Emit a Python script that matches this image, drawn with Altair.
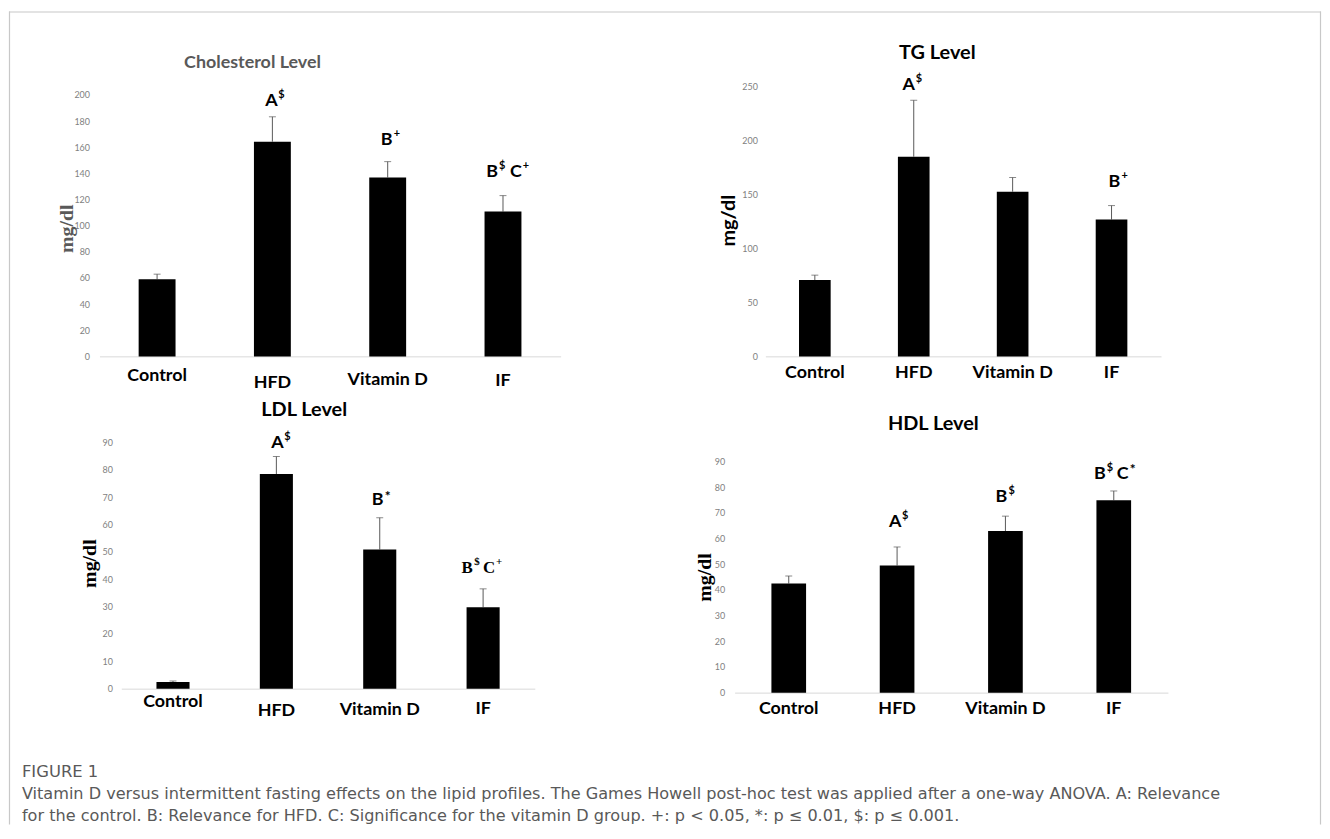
import altair as alt
import pandas as pd

# ---------------- data ----------------
groups = ["Control", "HFD", "Vitamin D", "IF"]

chol_mean = [59.1, 164.3, 136.9, 110.8]
chol_err = [3.8, 19.0, 12.1, 12.2]
tg_mean = [70.6, 184.9, 152.5, 126.7]
tg_err = [4.6, 52.2, 13.1, 12.9]
ldl_mean = [2.4, 78.5, 50.9, 29.8]
ldl_err = [0.4, 6.4, 11.6, 6.7]
hdl_mean = [42.5, 49.5, 62.9, 74.9]
hdl_err = [2.9, 7.2, 5.8, 3.6]

chol_ticks = [0, 20, 40, 60, 80, 100, 120, 140, 160, 180, 200]
tg_ticks = [0, 50, 100, 150, 200, 250]
ldl_ticks = [0, 10, 20, 30, 40, 50, 60, 70, 80, 90]
hdl_ticks = [0, 10, 20, 30, 40, 50, 60, 70, 80, 90]

chol_ann_groups = ["HFD", "Vitamin D", "IF"]
chol_ann_y = [195.4, 165.8, 140.7]
chol_ann_text = ["A$", "B+", "B$ C+"]
tg_ann_groups = ["HFD", "IF"]
tg_ann_y = [251.0, 161.0]
tg_ann_text = ["A$", "B+"]
ldl_ann_groups = ["HFD", "Vitamin D", "IF"]
ldl_ann_y = [89.9, 68.8, 44.1]
ldl_ann_text = ["A$", "B*", "B$ C+"]
hdl_ann_groups = ["HFD", "Vitamin D", "IF"]
hdl_ann_y = [66.4, 76.3, 85.2]
hdl_ann_text = ["A$", "B$", "B$ C*"]

panel_titles = ["Cholesterol Level", "TG Level", "LDL Level", "HDL Level"]
y_title = "mg/dl"
caption_head = "FIGURE 1"
caption_lines = [
    "Vitamin D versus intermittent fasting effects on the lipid profiles. The Games Howell post-hoc test was applied after a one-way ANOVA. A: Relevance",
    "for the control. B: Relevance for HFD. C: Significance for the vitamin D group. +: p < 0.05, *: p \u2264 0.01, $: p \u2264 0.001.",
]

# ---------------- layout / style ----------------
W, H = 1320, 818
SANS = "Lato"
SERIF = "Liberation Serif"
CAPF = "DejaVu Sans"
GRAY = "#595959"


def pad_cond(base, special):
    """x-axis label padding with per-label adjustments (style only)."""
    if not special:
        return base
    conds = [{"test": "datum.value === '%s'" % g, "value": v} for g, v in special.items()]
    return {"condition": conds, "value": base}


layout = {
    "chol": dict(xr=[91, 555], yr=[347, 84], ylp=10, xlp=pad_cond(15, {"Control": 10.5, "HFD": 17.5, "Vitamin D": 14.5}),
                 tx=-33, ty=218, tfont=SERIF, tcolor=GRAY, head=(245, 52), head_color=GRAY, head_size=18,
                 ann_dx=[[-1], [-1], [-11, 13]], ann_font=[SANS, SANS, SANS]),
    "tg": dict(xr=[761, 1159], yr=[347, 75.3], ylp=8, xlp=7, tx=-37, ty=210,
               tfont=SANS, tcolor="black", head=(934, 42), head_color="black", head_size=20,
               ann_dx=[[-5], [3]], ann_font=[SANS, SANS]),
    "ldl": dict(xr=[113, 529], yr=[681.3, 433.7], ylp=9, xlp=pad_cond(12, {"Control": 4, "HFD": 13.5, "IF": 11}),
                tx=-32, ty=555, tfont=SERIF, tcolor="black", head=(297, 401), head_color="black", head_size=20,
                ann_dx=[[1], [-2], [-16, 6]], ann_font=[SANS, SANS, SERIF]),
    "hdl": dict(xr=[730, 1166], yr=[685.3, 452.7], ylp=10, xlp=7, tx=-30, ty=569,
                tfont=SERIF, tcolor="black", head=(930, 415), head_color="black", head_size=20,
                ann_dx=[[-2], [-4], [-14, 9]], ann_font=[SANS, SANS, SANS]),
}


def panel(means, errs, ticks, ann_groups, ann_y, ann_text, L):
    df = pd.DataFrame({
        "group": groups,
        "mean": means,
        "upper": [m + e for m, e in zip(means, errs)],
    })
    x = alt.X(
        "group:N", sort=groups, title=None,
        scale=alt.Scale(domain=groups, range=L["xr"], paddingInner=0.68, paddingOuter=0.34),
        axis=alt.Axis(orient="bottom", offset=L["yr"][0] - H, domain=True, domainColor="#d9d9d9",
                      domainWidth=1, ticks=False, grid=False, labelAngle=0, labelFont=SANS,
                      labelFontWeight="bold", labelFontSize=18, labelColor="black",
                      labelPadding=L["xlp"], title=None),
    )
    yscale = alt.Scale(domain=[ticks[0], ticks[-1]], range=L["yr"], nice=False, zero=False)
    yaxis = alt.Axis(orient="left", offset=-L["xr"][0], values=ticks, domain=False, ticks=False,
                     grid=False, labelFont=SANS, labelFontSize=9, labelColor="#7f7f7f",
                     labelPadding=L["ylp"], title=y_title, titleFont=L["tfont"], titleFontSize=20,
                     titleFontWeight="bold", titleColor=L["tcolor"], titleX=L["tx"], titleY=L["ty"],
                     titleAngle=270, titleAlign="center", titleBaseline="middle")

    def Y(field):
        return alt.Y(field, scale=yscale, axis=yaxis)

    bars = alt.Chart(df).mark_bar(color="black").encode(x=x, y=Y("mean:Q"))
    err = alt.Chart(df).mark_rule(color="#595959", strokeWidth=1).encode(
        x=x, y=Y("mean:Q"), y2="upper:Q")
    cap = alt.Chart(df).mark_tick(color="#595959", thickness=1, size=7).encode(x=x, y=Y("upper:Q"))
    layers = [err, cap, bars]

    for g, yv, txt, dxs, fnt in zip(ann_groups, ann_y, ann_text, L["ann_dx"], L["ann_font"]):
        for tok, dx in zip(txt.split(" "), dxs):
            base, sup = tok[0], tok[1:]
            serif = fnt == SERIF
            bsize = 17 if serif else 18
            hw = 6
            ssize = 14 if sup == "*" else 11
            sdy = -4 if sup == "*" else -6
            d = pd.DataFrame({"group": [g], "y": [yv], "b": [base], "s": [sup]})
            layers.append(
                alt.Chart(d).mark_text(font=fnt, fontWeight="bold", fontSize=bsize, color="black",
                                       align="center", baseline="middle", dx=dx)
                .encode(x=x, y=Y("y:Q"), text="b:N"))
            layers.append(
                alt.Chart(d).mark_text(font=fnt, fontWeight="bold", fontSize=ssize, color="black",
                                       align="left", baseline="middle", dx=dx + hw + 1, dy=sdy)
                .encode(x=x, y=Y("y:Q"), text="s:N"))
    return alt.layer(*layers)


def head(text, L):
    d = pd.DataFrame({"t": [text]})
    return alt.Chart(d).mark_text(font=SANS, fontWeight="bold", fontSize=L["head_size"],
                                  color=L["head_color"], align="center", baseline="middle").encode(
        text="t:N", x=alt.value(L["head"][0]), y=alt.value(L["head"][1]))


p_chol = panel(chol_mean, chol_err, chol_ticks, chol_ann_groups, chol_ann_y, chol_ann_text, layout["chol"])
p_tg = panel(tg_mean, tg_err, tg_ticks, tg_ann_groups, tg_ann_y, tg_ann_text, layout["tg"])
p_ldl = panel(ldl_mean, ldl_err, ldl_ticks, ldl_ann_groups, ldl_ann_y, ldl_ann_text, layout["ldl"])
p_hdl = panel(hdl_mean, hdl_err, hdl_ticks, hdl_ann_groups, hdl_ann_y, hdl_ann_text, layout["hdl"])

heads = [head(t, layout[k]) for t, k in zip(panel_titles, ["chol", "tg", "ldl", "hdl"])]

one = pd.DataFrame({"a": [0]})
frame_col = "#c8c8c8"
frame = [
    alt.Chart(one).mark_rule(color=frame_col, strokeWidth=1.2).encode(
        x=alt.value(0.5), y=alt.value(0), y2=alt.value(H)),
    alt.Chart(one).mark_rule(color=frame_col, strokeWidth=1.2).encode(
        x=alt.value(0), x2=alt.value(W), y=alt.value(0.5)),
    alt.Chart(one).mark_rule(color=frame_col, strokeWidth=1.2).encode(
        x=alt.value(W - 0.5), y=alt.value(0), y2=alt.value(H)),
]

CAP_X = 13
cap_head = alt.Chart(pd.DataFrame({"t": [caption_head]})).mark_text(
    font=CAPF, fontSize=16.5, color=GRAY, align="left", baseline="alphabetic"
).encode(text="t:N", x=alt.value(CAP_X), y=alt.value(770))
cap_l1 = alt.Chart(pd.DataFrame({"t": [caption_lines[0]]})).mark_text(
    font=CAPF, fontSize=16.2, color=GRAY, align="left", baseline="alphabetic"
).encode(text="t:N", x=alt.value(CAP_X), y=alt.value(792))
cap_l2 = alt.Chart(pd.DataFrame({"t": [caption_lines[1]]})).mark_text(
    font=CAPF, fontSize=16.2, color=GRAY, align="left", baseline="alphabetic"
).encode(text="t:N", x=alt.value(CAP_X), y=alt.value(814))

chart = (
    alt.layer(p_chol, p_tg, p_ldl, p_hdl, *heads, *frame, cap_head, cap_l1, cap_l2)
    .resolve_scale(x="independent", y="independent")
    .resolve_axis(x="independent", y="independent")
    .properties(width=W, height=H, padding=0, background="white")
    .configure_view(stroke=None)
)

chart.save("out.html", embed_options={"renderer": "svg", "actions": False})
